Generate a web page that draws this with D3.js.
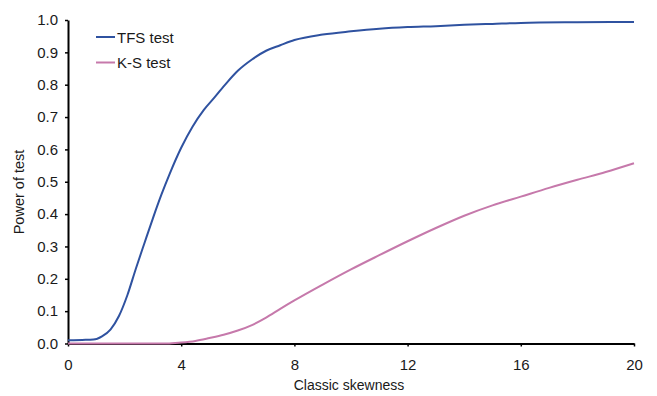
<!DOCTYPE html>
<html>
<head>
<meta charset="utf-8">
<script src="https://cdn.jsdelivr.net/npm/d3@7"></script>
<style>
  html, body { margin: 0; padding: 0; background: #ffffff; }
  svg { display: block; font-family: "Liberation Sans", Arial, sans-serif; }
</style>
</head>
<body>
<svg id="chart" width="657" height="396"></svg>
<script>
// Classic skewness values at which power was evaluated
const tfsSkew = [0, 0.5, 0.9, 1.2, 1.5, 1.8, 2.1, 2.4, 2.7, 3.0, 3.3, 3.6, 4.0, 4.4, 4.8, 5.2, 5.6, 6.0, 6.5, 7.0, 7.5, 8.0, 9, 10, 11, 12, 13, 14, 15, 16, 18, 20];
const tfsPower = [0.010, 0.011, 0.012, 0.022, 0.043, 0.085, 0.150, 0.232, 0.310, 0.387, 0.460, 0.526, 0.605, 0.670, 0.722, 0.763, 0.805, 0.843, 0.878, 0.905, 0.922, 0.938, 0.955, 0.965, 0.973, 0.978, 0.981, 0.985, 0.988, 0.991, 0.993, 0.994];

const ksSkew = [0, 3, 3.5, 4, 4.5, 5, 5.5, 6, 6.5, 7, 7.5, 8, 9, 10, 11, 12, 13, 14, 15, 16, 17, 18, 19, 20];
const ksPower = [0, 0, 0.000, 0.003, 0.008, 0.017, 0.027, 0.040, 0.057, 0.080, 0.107, 0.133, 0.182, 0.229, 0.273, 0.316, 0.357, 0.395, 0.427, 0.454, 0.481, 0.506, 0.530, 0.557];

const xTicks = [0, 4, 8, 12, 16, 20];
const yTicks = [0, 0.1, 0.2, 0.3, 0.4, 0.5, 0.6, 0.7, 0.8, 0.9, 1.0];

const seriesNames = ["TFS test", "K-S test"];
const seriesColors = ["#2f52a0", "#c679ab"];

const svg = d3.select("#chart");

const x = d3.scaleLinear().domain([0, 20]).range([68, 634]);
const y = d3.scaleLinear().domain([0, 1]).range([343.5, 20]);

// Y axis
const yAxis = svg.append("g")
  .attr("transform", "translate(68,0)")
  .call(d3.axisLeft(y).tickValues(yTicks).tickFormat(d3.format(".1f")).tickSize(3).tickSizeOuter(0).tickPadding(7));

// X axis
const xAxis = svg.append("g")
  .attr("transform", "translate(0,343.5)")
  .call(d3.axisBottom(x).tickValues(xTicks).tickFormat(d3.format("d")).tickSize(3).tickSizeOuter(0).tickPadding(13));

[yAxis, xAxis].forEach(g => {
  g.select(".domain").attr("stroke", "#000").attr("stroke-width", 2);
  g.selectAll(".tick line").attr("stroke", "#000").attr("stroke-width", 1.5);
  g.selectAll(".tick text")
    .attr("fill", "#1a1a1a")
    .style("font-size", "15px")
    .style("font-family", "'Liberation Sans', Arial, sans-serif");
});

// Axis titles
svg.append("text")
  .attr("x", 349)
  .attr("y", 390)
  .attr("text-anchor", "middle")
  .attr("fill", "#1a1a1a")
  .style("font-size", "14px")
  .text("Classic skewness");

svg.append("text")
  .attr("transform", "translate(24,192) rotate(-90)")
  .attr("text-anchor", "middle")
  .attr("fill", "#1a1a1a")
  .style("font-size", "14.5px")
  .text("Power of test");

// Power curves
const line = d3.line()
  .x(d => x(d[0]))
  .y(d => y(d[1]))
  .curve(d3.curveMonotoneX);

const series = [
  d3.zip(tfsSkew, tfsPower),
  d3.zip(ksSkew, ksPower)
];

series.forEach((pts, i) => {
  svg.append("path")
    .datum(pts)
    .attr("fill", "none")
    .attr("stroke", seriesColors[i])
    .attr("stroke-width", 2)
    .attr("stroke-linejoin", "round")
    .attr("d", line);
});

// Legend
const legend = svg.append("g");
seriesNames.forEach((name, i) => {
  const ly = 37 + i * 25.5;
  legend.append("line")
    .attr("x1", 96).attr("x2", 115)
    .attr("y1", ly).attr("y2", ly)
    .attr("stroke", seriesColors[i])
    .attr("stroke-width", 2);
  legend.append("text")
    .attr("x", 117)
    .attr("y", ly + 5.5)
    .attr("fill", "#1a1a1a")
    .style("font-size", "15px")
    .text(name);
});
</script>
</body>
</html>
